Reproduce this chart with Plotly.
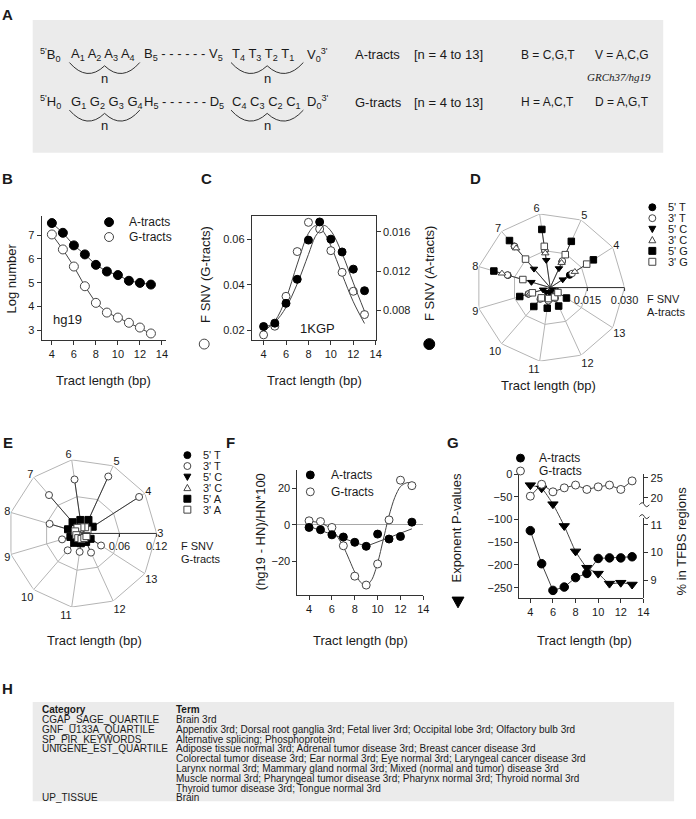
import plotly.graph_objects as go
import numpy as np

W, H = 696, 819
FONT = "Liberation Sans, Arial, Helvetica, sans-serif"
SERIF = "Liberation Serif, Times New Roman, serif"
INK = "#1a1a1a"
AXC = "#333333"
LINEC = "#444444"
GRID = "#b4b4b4"
OPEN_EDGE = "#444444"

# ---------------- data ----------------
tract = [4, 5, 6, 7, 8, 9, 10, 11, 12, 13]
x_ticks = [4, 6, 8, 10, 12, 14]

# B : log number of tracts in hg19
b_a_log = [7.51, 7.10, 6.57, 6.19, 5.75, 5.47, 5.32, 5.08, 4.99, 4.92]
b_g_log = [7.03, 6.40, 5.68, 4.85, 4.15, 3.74, 3.53, 3.31, 3.11, 2.86]

# C : F SNV (1KGP)
c_g_fsnv = [0.0180, 0.0218, 0.0349, 0.0545, 0.0673, 0.0644, 0.0549, 0.0454, 0.0371, 0.0269]
c_a_fsnv = [0.00635, 0.00669, 0.00871, 0.01116, 0.01516, 0.01701, 0.01526, 0.01395, 0.0122, 0.0100]
c_fit_x = [4, 5, 6, 7, 8, 8.6, 9, 9.4, 10, 11, 12, 13]
c_g_fit = [0.0195, 0.0240, 0.0340, 0.0490, 0.0625, 0.0658, 0.0650, 0.0628, 0.0570, 0.0445, 0.0325, 0.0230]
c_a_fit = [0.0062, 0.0068, 0.0083, 0.0107, 0.0137, 0.0155, 0.0161, 0.01665, 0.0161, 0.0138, 0.0108, 0.0079]

# D / E radar spokes: tract lengths 3..13 around the circle
spoke_lengths = [3] + tract
d_5T = [0.0093, 0.0115, 0.0150, 0.0221, 0.0178, 0.0092, 0.0058, 0.0050, 0.0045, 0.0030]
d_3T = [0.0105, 0.0118, 0.0152, 0.0219, 0.0180, 0.0090, 0.0062, 0.0054, 0.0048, 0.0034]
d_5C = [0.0060, 0.0085, 0.0112, 0.0100, 0.0079, 0.0030, 0.0024, 0.0020, 0.0018, 0.0015]
d_3C = [0.0118, 0.0110, 0.0140, 0.0210, 0.0203, 0.0085, 0.0055, 0.0050, 0.0042, 0.0030]
d_5G = [0.0207, 0.0205, 0.0237, 0.0251, 0.0237, 0.0128, 0.0101, 0.0084, 0.0082, 0.0078]
d_3G = [0.0175, 0.0146, 0.0168, 0.0152, 0.0115, 0.0075, 0.0055, 0.0045, 0.0042, 0.0037]
d_names = ["5' T", "3' T", "5' C", "3' C", "5' G", "3' G"]

e_5T = [0.006, 0.006, 0.005, 0.006, 0.006, 0.005, 0.005, 0.005, 0.004, 0.004]
e_3T = [0.109, 0.101, 0.088, 0.082, 0.055, 0.034, 0.036, 0.030, 0.034, 0.036]
e_5C = [0.003, 0.003, 0.003, 0.003, 0.003, 0.003, 0.003, 0.003, 0.003, 0.003]
e_3C = [0.005, 0.006, 0.006, 0.006, 0.007, 0.006, 0.005, 0.005, 0.005, 0.005]
e_5A = [0.020, 0.024, 0.022, 0.024, 0.024, 0.020, 0.020, 0.016, 0.015, 0.016]
e_3A = [0.010, 0.011, 0.010, 0.012, 0.012, 0.010, 0.010, 0.009, 0.008, 0.008]
e_names = ["5' T", "3' T", "5' C", "3' C", "5' A", "3' A"]

# F : (hg19 - HN)/HN*100
f_a = [-1.45, -2.7, -5.5, -6.7, -9.6, -11.8, -5.1, -7.8, -6.4, 1.45]
f_g = [2.2, 1.8, -1.45, -11.5, -28.2, -33.1, -21.5, 2.7, 24.5, 21.5]
f_a_fit_x = [4, 9, 13]
f_a_fit_y = [-0.9, -11.8, -2.2]
f_g_fit_x = [4, 5, 6, 7, 8, 8.5, 9, 9.5, 10, 10.5, 11, 11.5, 12, 12.5, 13]
f_g_fit_y = [2.0, 1.0, -2.5, -12, -26, -31.5, -33.3, -30, -21, -8, 5, 15, 21, 23, 23.3]

# G : exponent P-values and % in TFBS regions
g_pexp = [-24, -31, -66, -114, -170, -206, -219, -241, -239, -243]
g_a_tfbs = [10.79, 9.60, 8.64, 8.76, 9.10, 9.25, 9.79, 9.81, 9.81, 9.85]
g_g_tfbs = [20.4, 23.4, 21.5, 22.5, 23.2, 22.1, 22.75, 23.2, 22.1, 24.25]

# H : enrichment table
h_categories = ["CGAP_SAGE_QUARTILE", "GNF_U133A_QUARTILE", "SP_PIR_KEYWORDS",
                "UNIGENE_EST_QUARTILE", "", "", "", "", "UP_TISSUE"]
h_terms = [
    "Brain 3rd",
    "Appendix 3rd; Dorsal root ganglia 3rd; Fetal liver 3rd; Occipital lobe 3rd; Olfactory bulb 3rd",
    "Alternative splicing; Phosphoprotein",
    "Adipose tissue normal 3rd; Adrenal tumor disease 3rd; Breast cancer disease 3rd",
    "Colorectal tumor disease 3rd; Ear normal 3rd; Eye normal 3rd; Laryngeal cancer disease 3rd",
    "Larynx normal 3rd; Mammary gland normal 3rd; Mixed (normal and tumor) disease 3rd",
    "Muscle normal 3rd; Pharyngeal tumor disease 3rd; Pharynx normal 3rd; Thyroid normal 3rd",
    "Thyroid tumor disease 3rd; Tongue normal 3rd",
    "Brain",
]


# ---------------- helpers ----------------
def px(x):
    return x / W


def py(y):
    return 1 - y / H


def P(x, y):
    return f"{x / W:.5f},{1 - y / H:.5f}"


annotations = []
shapes = []


def ann(text, x, y, size=12, xanchor="center", yanchor="middle", angle=0,
        family=FONT, color=INK):
    annotations.append(dict(text=text, x=px(x), y=py(y), xref="paper", yref="paper",
                            showarrow=False, xanchor=xanchor, yanchor=yanchor,
                            textangle=angle, font=dict(size=size, family=family, color=color)))


def sym(kind, cx, cy, s, filled):
    fc = "black" if filled else "white"
    lc = "black" if filled else OPEN_EDGE
    h = s / 2
    if kind == "circle":
        shapes.append(dict(type="circle", xref="paper", yref="paper",
                           x0=px(cx - h), x1=px(cx + h), y0=py(cy + h), y1=py(cy - h),
                           fillcolor=fc, line=dict(color=lc, width=1), layer="above"))
    elif kind == "square":
        shapes.append(dict(type="rect", xref="paper", yref="paper",
                           x0=px(cx - h), x1=px(cx + h), y0=py(cy + h), y1=py(cy - h),
                           fillcolor=fc, line=dict(color=lc, width=1), layer="above"))
    elif kind == "tri-down":
        shapes.append(dict(type="path", xref="paper", yref="paper",
                           path=f"M {P(cx - h, cy - h * 0.8)} L {P(cx + h, cy - h * 0.8)} L {P(cx, cy + h)} Z",
                           fillcolor=fc, line=dict(color=lc, width=1), layer="above"))
    elif kind == "tri-up":
        shapes.append(dict(type="path", xref="paper", yref="paper",
                           path=f"M {P(cx - h, cy + h * 0.8)} L {P(cx + h, cy + h * 0.8)} L {P(cx, cy - h)} Z",
                           fillcolor=fc, line=dict(color=lc, width=1), layer="above"))


def brace(x0, x1, ytop, ybot):
    xc = (x0 + x1) / 2
    ycusp = ytop + (ybot - ytop) * 0.3
    ctrl = (ybot - 0.25 * ytop - 0.25 * ycusp) / 0.5
    shapes.append(dict(type="path", xref="paper", yref="paper",
                       path=(f"M {P(x0, ytop)} Q {P((x0 + xc) / 2, ctrl)} {P(xc, ycusp)} "
                             f"Q {P((xc + x1) / 2, ctrl)} {P(x1, ytop)}"),
                       line=dict(color="#333", width=1)))


def filled_marker(symbol, size):
    return dict(symbol=symbol, size=size, color="black", line=dict(color="black", width=1))


def open_marker(symbol, size):
    return dict(symbol=symbol, size=size, color="white", line=dict(color=OPEN_EDGE, width=1))


fig = go.Figure()

# ---------------- panel B ----------------
fig.add_trace(go.Scatter(x=tract, y=b_a_log, mode="lines+markers", xaxis="x", yaxis="y",
                         line=dict(color=LINEC, width=1), marker=filled_marker("circle", 9)))
fig.add_trace(go.Scatter(x=tract, y=b_g_log, mode="lines+markers", xaxis="x", yaxis="y",
                         line=dict(color=LINEC, width=1), marker=open_marker("circle", 9)))

# ---------------- panel C ----------------
fig.add_trace(go.Scatter(x=c_fit_x, y=c_g_fit, mode="lines", xaxis="x2", yaxis="y2",
                         line=dict(color=LINEC, width=1, shape="spline", smoothing=1.0)))
fig.add_trace(go.Scatter(x=tract, y=c_g_fsnv, mode="markers", xaxis="x2", yaxis="y2",
                         marker=open_marker("circle", 8)))
fig.add_trace(go.Scatter(x=c_fit_x, y=c_a_fit, mode="lines", xaxis="x2", yaxis="y3",
                         line=dict(color=LINEC, width=1, shape="spline", smoothing=1.0)))
fig.add_trace(go.Scatter(x=tract, y=c_a_fsnv, mode="markers", xaxis="x2", yaxis="y3",
                         marker=filled_marker("circle", 8)))

# ---------------- panel D / E (radar) ----------------
n_spokes = len(spoke_lengths)
spoke_angle = {n: (n - spoke_lengths[0]) * 360.0 / n_spokes for n in spoke_lengths}
all_angles = [spoke_angle[n] for n in spoke_lengths]
data_angles = [spoke_angle[n] for n in tract]

polar_specs = [
    ("circle", True), ("circle", False), ("triangle-down", True),
    ("triangle-up", False), ("square", True), ("square", False),
]


def add_radar(series, subplot, size, rings):
    rmax = rings[-1]
    for rv in rings:
        fig.add_trace(go.Scatterpolar(r=[rv] * (n_spokes + 1), theta=all_angles + all_angles[:1],
                                      mode="lines", subplot=subplot, hoverinfo="skip",
                                      line=dict(color=GRID, width=1)))
    for a in all_angles:
        fig.add_trace(go.Scatterpolar(r=[0, rmax], theta=[a, a], mode="lines", subplot=subplot,
                                      hoverinfo="skip", line=dict(color=GRID, width=1)))
    mx = np.max(np.vstack(series), axis=0)
    for a, m in zip(data_angles, mx):
        fig.add_trace(go.Scatterpolar(r=[0, m], theta=[a, a], mode="lines", subplot=subplot,
                                      line=dict(color="#3a3a3a", width=1), hoverinfo="skip"))
    for vals, (symb, filled) in zip(series, polar_specs):
        mk = filled_marker(symb, size) if filled else open_marker(symb, size)
        fig.add_trace(go.Scatterpolar(r=vals, theta=data_angles, mode="markers",
                                      subplot=subplot, marker=mk))


add_radar([d_5T, d_3T, d_5C, d_3C, d_5G, d_3G], "polar", 6.5, [0.015, 0.030])
add_radar([e_5T, e_3T, e_5C, e_3C, e_5A, e_3A], "polar2", 7, [0.06, 0.12])

# ---------------- panel F ----------------
fig.add_trace(go.Scatter(x=f_a_fit_x, y=f_a_fit_y, mode="lines", xaxis="x3", yaxis="y4",
                         line=dict(color=LINEC, width=1)))
fig.add_trace(go.Scatter(x=f_g_fit_x, y=f_g_fit_y, mode="lines", xaxis="x3", yaxis="y4",
                         line=dict(color=LINEC, width=1, shape="spline", smoothing=0.8)))
fig.add_trace(go.Scatter(x=tract, y=f_g, mode="markers", xaxis="x3", yaxis="y4",
                         marker=open_marker("circle", 8)))
fig.add_trace(go.Scatter(x=tract, y=f_a, mode="markers", xaxis="x3", yaxis="y4",
                         marker=filled_marker("circle", 8)))

# ---------------- panel G ----------------
fig.add_trace(go.Scatter(x=tract, y=g_pexp, mode="lines+markers", xaxis="x4", yaxis="y5",
                         line=dict(color=LINEC, width=1, shape="spline", smoothing=0.5),
                         marker=filled_marker("triangle-down", 9)))
fig.add_trace(go.Scatter(x=tract, y=g_g_tfbs, mode="lines+markers", xaxis="x4", yaxis="y6",
                         line=dict(color=LINEC, width=1), marker=open_marker("circle", 8),
                         cliponaxis=False))
fig.add_trace(go.Scatter(x=tract, y=g_a_tfbs, mode="lines+markers", xaxis="x4", yaxis="y7",
                         line=dict(color=LINEC, width=1), marker=filled_marker("circle", 8.5),
                         cliponaxis=False))


# ---------------- axes ----------------
def xax(left, right, rng, anchor, **kw):
    d = dict(domain=[px(left), px(right)], range=rng, anchor=anchor, showline=True,
             linecolor=AXC, linewidth=1, ticks="outside", ticklen=4, tickcolor=AXC,
             tickfont=dict(size=11, color=INK, family=FONT), showgrid=False,
             zeroline=False, tickmode="array", tickvals=x_ticks, fixedrange=True)
    d.update(kw)
    return d


def yax(top, bottom, rng, anchor, tickvals, ticktext=None, **kw):
    d = dict(domain=[py(bottom), py(top)], range=rng, anchor=anchor, showline=True,
             linecolor=AXC, linewidth=1, ticks="outside", ticklen=4, tickcolor=AXC,
             tickfont=dict(size=11, color=INK, family=FONT), showgrid=False,
             zeroline=False, tickmode="array", tickvals=tickvals, fixedrange=True)
    if ticktext is not None:
        d["ticktext"] = ticktext
    d.update(kw)
    return d


def polar_layout(left, top, size, rmax, rticks, rtext, angtext):
    return dict(
        domain=dict(x=[px(left), px(left + size)], y=[py(top + size), py(top)]),
        bgcolor="rgba(0,0,0,0)",
        angularaxis=dict(type="linear", thetaunit="degrees", rotation=0,
                         direction="counterclockwise", showline=False, showgrid=False,
                         ticks="", tickmode="array", tickvals=all_angles, ticktext=angtext,
                         tickfont=dict(size=11, color=INK, family=FONT)),
        radialaxis=dict(range=[0, rmax], angle=0, tickangle=0, side="clockwise",
                        tickmode="array", tickvals=rticks, ticktext=rtext, showline=True,
                        linecolor=AXC, linewidth=1, showgrid=False,
                        ticks="outside", ticklen=3, tickcolor=AXC,
                        tickfont=dict(size=11, color=INK, family=FONT)),
    )


d_angle_text = [""] + [str(n) for n in tract]
e_angle_text = [str(n) for n in spoke_lengths]
layout = dict(
    width=W, height=H, margin=dict(l=0, r=0, t=0, b=0, pad=0),
    paper_bgcolor="white", plot_bgcolor="rgba(0,0,0,0)", showlegend=False,
    font=dict(family=FONT, color=INK),
    # B
    xaxis=xax(42, 167, [3.07, 14.33], "y"),
    yaxis=yax(212, 337, [2.58, 7.8], "x", [3, 4, 5, 6, 7]),
    # C
    xaxis2=xax(254, 379, [2.95, 14.0], "y2", mirror=True),
    yaxis2=yax(212, 337, [0.0157, 0.0700], "x2", [0.02, 0.04, 0.06], ["0.02", "0.04", "0.06"]),
    yaxis3=yax(212, 337, [0.00496, 0.0176], "x2", [0.008, 0.012, 0.016],
               ["0.008", "0.012", "0.016"], overlaying="y2", side="right"),
    # F
    xaxis3=xax(300, 427, [2.98, 14.0], "y4"),
    yaxis4=yax(468, 594, [-38.5, 30.1], "x3", [-20, 0, 20], zeroline=True,
               zerolinecolor="#a8a8a8", zerolinewidth=1),
    # G
    xaxis4=xax(524, 649, [3.04, 14.0], "y5"),
    yaxis5=yax(472, 597, [-272.5, 0.6], "x4", [0, -50, -100, -150, -200, -250]),
    yaxis6=yax(472, 501, [18.75, 26.0], "x4", [20, 25], side="right"),
    yaxis7=yax(516, 597, [8.37, 11.26], "x4", [9, 10, 11], side="right"),
    polar=polar_layout(480, 209, 150, 0.030, [0.015, 0.030], ["0.015", "0.030"], d_angle_text),
    polar2=polar_layout(8, 457, 150, 0.12, [0.06, 0.12], ["0.06", "0.12"], e_angle_text),
)

# ---------------- panel A (schematic) ----------------
shapes.append(dict(type="rect", xref="paper", yref="paper", x0=px(33), x1=px(669),
                   y0=py(148), y1=py(14), fillcolor="#ebebeb", line=dict(width=0), layer="below"))
row_y = [49, 97]
ann("<sup>5'</sup>B<sub>0</sub>", 38, row_y[0], 13, "left")
ann("A<sub>1</sub> A<sub>2</sub> A<sub>3</sub> A<sub>4</sub>", 70, row_y[0], 13, "left")
ann("B<sub>5</sub> - - - - - - V<sub>5</sub>", 143, row_y[0], 13, "left")
ann("T<sub>4</sub> T<sub>3</sub> T<sub>2</sub> T<sub>1</sub>", 232, row_y[0], 13, "left")
ann("V<sub>0</sub><sup>3'</sup>", 308, row_y[0], 13, "left")
ann("<sup>5'</sup>H<sub>0</sub>", 38, row_y[1], 13, "left")
ann("G<sub>1</sub> G<sub>2</sub> G<sub>3</sub> G<sub>4</sub>", 70, row_y[1], 13, "left")
ann("H<sub>5</sub> - - - - - - D<sub>5</sub>", 143, row_y[1], 13, "left")
ann("C<sub>4</sub> C<sub>3</sub> C<sub>2</sub> C<sub>1</sub>", 232, row_y[1], 13, "left")
ann("D<sub>0</sub><sup>3'</sup>", 308, row_y[1], 13, "left")
for ry in row_y:
    brace(70, 141, ry + 8, ry + 19)
    brace(233, 306, ry + 8, ry + 19)
    ann("n", 105.5, ry + 24, 13)
    ann("n", 269.5, ry + 24, 13)
ann("A-tracts", 356, row_y[0], 13, "left")
ann("[n = 4 to 13]", 416, row_y[0], 13, "left")
ann("B = C,G,T", 524, row_y[0], 12, "left")
ann("V = A,C,G", 598, row_y[0], 12, "left")
ann("<i>GRCh37/hg19</i>", 659, 72, 11, "right", family=SERIF)
ann("G-tracts", 356, row_y[1], 13, "left")
ann("[n = 4 to 13]", 416, row_y[1], 13, "left")
ann("H = A,C,T", 524, row_y[1], 12, "left")
ann("D = A,G,T", 598, row_y[1], 12, "left")

# ---------------- panel labels ----------------
for lab, lx, ly in [("A", 8, 9), ("B", 8, 174), ("C", 208, 174), ("D", 480, 174),
                    ("E", 8, 440), ("F", 232, 440), ("G", 457, 440), ("H", 8, 688)]:
    ann(f"<b>{lab}</b>", lx, ly, 15, "center")

# ---------------- axis titles & texts ----------------
ann("Log number", 12, 275, 13, angle=-90)
ann("Tract length (bp)", 104, 378, 13)
ann("hg19", 68, 316, 13)
ann("A-tracts", 128, 218, 12, "left")
ann("G-tracts", 128, 233, 12, "left")
sym("circle", 110, 218, 9, True)
sym("circle", 110, 233, 9, False)

ann("F SNV (G-tracts)", 207, 271, 13, angle=-90)
sym("circle", 206, 341, 10, False)
ann("F SNV (A-tracts)", 433, 270, 13, angle=-90)
sym("circle", 433, 341, 11, True)
ann("Tract length (bp)", 317, 378, 13)
ann("1KGP", 320, 325, 13)

kind_of = {"circle": "circle", "square": "square", "triangle-down": "tri-down",
           "triangle-up": "tri-up"}
# D legend
for i, (nm, (symb, filled)) in enumerate(zip(d_names, polar_specs)):
    yy = 203 + i * 11
    sym(kind_of[symb], 658, yy, 7, filled)
    ann(nm, 672, yy, 11, "left")
ann("F SNV", 651, 296, 11, "left")
ann("A-tracts", 651, 309, 11, "left")
ann("Tract length (bp)", 553, 383, 13)

# E legend
for i, (nm, (symb, filled)) in enumerate(zip(e_names, polar_specs)):
    yy = 453 + i * 11
    sym(kind_of[symb], 189, yy, 7, filled)
    ann(nm, 203, yy, 11, "left")
ann("F SNV", 181, 545, 11, "left")
ann("G-tracts", 181, 558, 11, "left")
ann("Tract length (bp)", 95, 640, 13)

# F
ann("(hg19 - HN)/HN*100", 263, 530, 13, angle=-90)
sym("circle", 313, 473, 8, True)
sym("circle", 313, 490, 8, False)
ann("A-tracts", 332, 473, 12, "left")
ann("G-tracts", 332, 490, 12, "left")
ann("Tract length (bp)", 364, 640, 13)

# G
ann("Exponent P-values", 460, 526, 13, angle=-90)
sym("tri-down", 462, 601, 12, True)
ann("% in TFBS regions", 687, 540, 13, angle=-90)
sym("circle", 525, 456, 8, True)
sym("circle", 525, 469, 8, False)
ann("A-tracts", 542, 456, 12, "left")
ann("G-tracts", 542, 469, 12, "left")
ann("Tract length (bp)", 590, 640, 13)
for yb in (503, 515):
    shapes.append(dict(type="path", xref="paper", yref="paper",
                       path=f"M {P(645, yb)} Q {P(648, yb - 4)} {P(650, yb)} Q {P(652, yb + 4)} {P(655, yb)}",
                       line=dict(color=AXC, width=1)))

# ---------------- panel H (table) ----------------
shapes.append(dict(type="rect", xref="paper", yref="paper", x0=px(33), x1=px(680),
                   y0=py(802), y1=py(702), fillcolor="#ebebeb", line=dict(width=0), layer="below"))
ann("<b>Category</b>", 40, 710, 10, "left")
ann("<b>Term</b>", 176, 710, 10, "left")
for i, (cat, term) in enumerate(zip(h_categories, h_terms)):
    yy = 710 + (i + 1) * 9.85
    if cat:
        ann(cat, 40, yy, 10, "left")
    ann(term, 176, yy, 10, "left")

layout["annotations"] = annotations
layout["shapes"] = shapes
fig.update_layout(**layout)
fig.write_html("out.html", config={"displayModeBar": False},
               post_script="document.body.style.margin='0px';"
                           "document.body.style.overflow='hidden';"
                           "document.documentElement.style.overflow='hidden';")
